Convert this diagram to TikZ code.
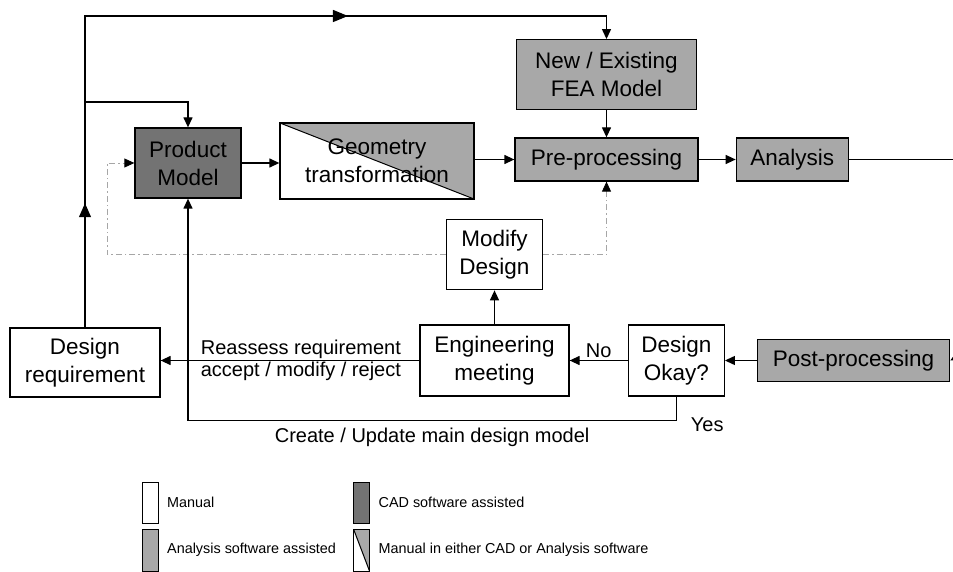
\documentclass[tikz,border=0pt]{standalone}
\usepackage{fontspec}
\setmainfont{Liberation Sans}
\usetikzlibrary{positioning,arrows.meta,decorations.markings}

\definecolor{cadgray}{gray}{0.45}
\definecolor{anagray}{gray}{0.66}

\begin{document}
\begin{tikzpicture}[x=1pt,y=-1pt,>={Triangle[length=10pt,width=9pt]},line width=1.3pt]
\tikzstyle{block}=[draw,line width=1.3pt,align=center,inner sep=2pt,font=\fontsize{22.5}{28}\selectfont]
\tikzstyle{manual}=[block,fill=white]
\tikzstyle{cad}=[block,fill=cadgray]
\tikzstyle{analysis}=[block,fill=anagray]
\tikzstyle{halfgray}=[path picture={\fill[anagray] (path picture bounding box.north west) -- (path picture bounding box.north east) -- (path picture bounding box.south east) -- cycle;
    \draw[line width=1pt] (path picture bounding box.north west) -- (path picture bounding box.south east);}]
\tikzstyle{mixed}=[block,halfgray]
\tikzstyle{flow}=[draw,->]
\tikzstyle{dashflow}=[draw=gray!70,line width=0.8pt,dash pattern=on 6pt off 3pt on 1.5pt off 3pt,-{Triangle[length=10pt,width=9pt,color=black]}]
\tikzstyle{lbl}=[font=\fontsize{20}{25}\selectfont]
\tikzstyle{key}=[draw,line width=1pt,minimum width=16pt,minimum height=41pt,inner sep=0pt]
\tikzstyle{keytext}=[font=\fontsize{14.4}{17}\selectfont,inner sep=0pt]
\useasboundingbox (0,0) rectangle (953,572);

% top row
\node [cad,minimum width=106pt,minimum height=70pt] (pm) at (188,163) {Product\\Model};
\node [mixed,minimum width=194pt,minimum height=76pt] (geo) at (377,161) {Geometry\\transformation};
\node [analysis,minimum width=183pt,minimum height=43pt] (pre) at (606.5,159.5) {Pre-processing};
\node [analysis,minimum width=112pt,minimum height=43pt,right=37pt of pre] (ana) {Analysis};
\node [analysis,minimum width=180pt,minimum height=70pt,above=27pt of pre] (fea) {New / Existing\\FEA Model};

% bottom row
\node [manual,minimum width=150pt,minimum height=69pt] (req) at (85,362.5) {Design\\requirement};
\node [manual,minimum width=149pt,minimum height=71pt] (eng) at (494.5,360.5) {Engineering\\meeting};
\node [manual,minimum width=96pt,minimum height=70pt,above=34pt of eng] (mod) {Modify\\Design};
\node [manual,minimum width=96pt,minimum height=71pt,right=58pt of eng] (ok) {Design\\Okay?};
\node [analysis,minimum width=192pt,minimum height=42pt,right=32pt of ok] (post) {Post-processing};

\coordinate (top) at (0,16);
\coordinate (split) at (85,102);
\coordinate (anaout) at (953,159.5);
\coordinate (postin) at (953,359);

% connectors
\draw[flow,postaction={decorate},decoration={markings,
    mark=at position 0.145 with {\arrow{Triangle[length=14pt,width=12pt]}},
    mark=at position 0.671 with {\arrow{Triangle[length=15pt,width=12pt]}}}]
    (req.north) -- (req.north |- top) -- (fea.north |- top) -- (fea.north);
\draw[flow] (split) -| (pm.north);
\draw[flow] (pm.east) -- (pm.east -| geo.west);
\draw[flow] (geo.east |- pre.west) -- (pre.west);
\draw[flow] (fea) -- (pre);
\draw[flow] (pre) -- (ana);
\draw (ana.east) -- (anaout);
\draw[flow] (postin) -- (post.east);
\draw[flow] (post) -- (ok);
\draw[flow] (ok.west) -- node[lbl,above,inner sep=2pt] {No} (eng.east);
\draw[flow] (eng.west) -- node[lbl,above,pos=0.458,inner sep=1pt] {Reassess requirement}
    node[lbl,below,pos=0.458,inner sep=1pt] {accept / modify / reject} (eng.west -| req.east);
\draw[flow] (eng) -- (mod);
\draw[dashflow] (mod.west) -| ([xshift=-27pt]pm.west) -- (pm.west);
\draw[dashflow] (mod.east) -| (pre.south);
\draw[flow] (ok.south) -- ++(0,24) node[lbl,anchor=west,inner sep=0pt,xshift=14pt,yshift=-4pt] {Yes}
    -| node[lbl,pos=0.25,below=3pt] {Create / Update main design model} (pm.south);

% legend
\node [key,fill=white] (keyman) at (150,502.5) {};
\node [key,fill=anagray,minimum height=42pt] (keyana) at (150,550) {};
\node [key,fill=cadgray] (keycad) at (361.5,502.5) {};
\node [key,halfgray,minimum height=42pt] (keymix) at (361.5,550) {};
\node [keytext,right=8pt of keyman] {Manual};
\node [keytext,right=8pt of keyana] {Analysis software assisted};
\node [keytext,right=8pt of keycad] {CAD software assisted};
\node [keytext,right=8pt of keymix] {Manual in either CAD or Analysis software};
\end{tikzpicture}
\end{document}
